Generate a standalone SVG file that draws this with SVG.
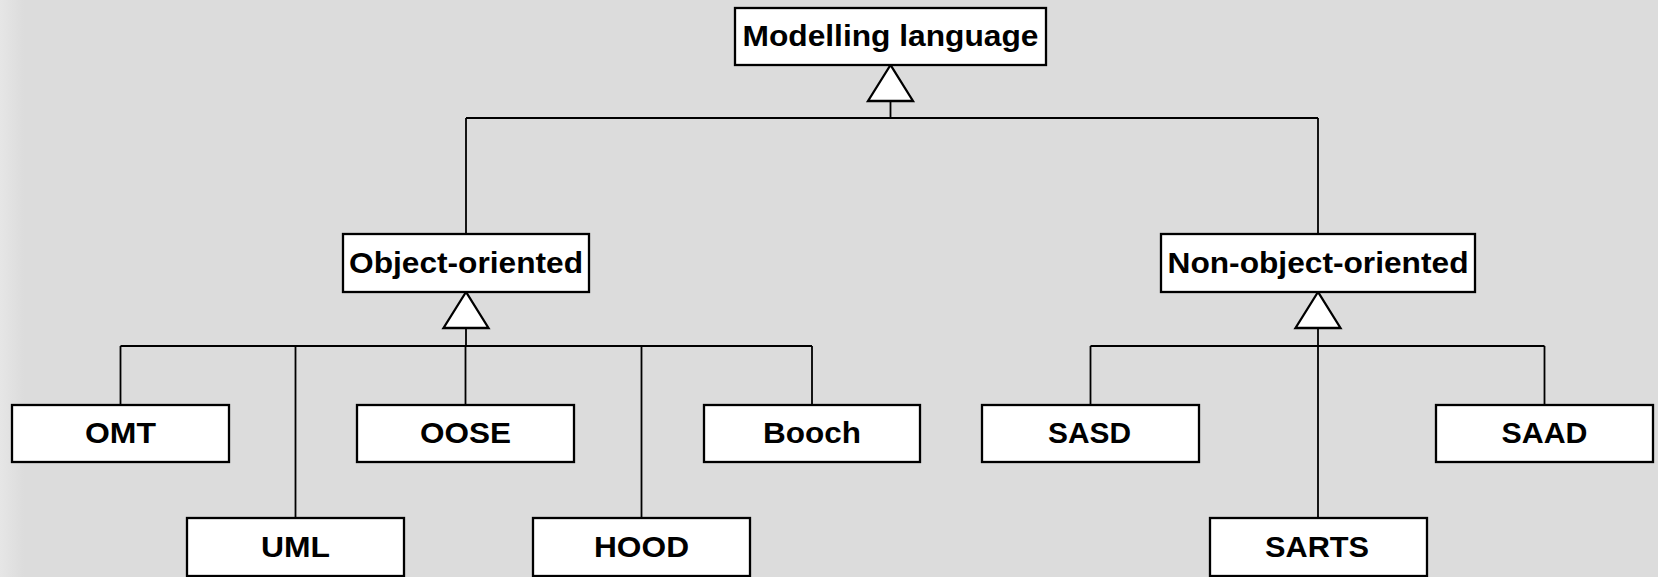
<svg xmlns="http://www.w3.org/2000/svg" width="1658" height="577" viewBox="0 0 1658 577">
  <style>
    .box { fill: #ffffff; stroke: #000000; stroke-width: 2.3; }
    .lbl { font-family: "Liberation Sans", Arial, sans-serif; font-weight: bold; font-size: 29.5px; fill: #000000; text-anchor: middle; }
    .wire { fill: none; stroke: #000000; stroke-width: 1.8; }
    .head { fill: #ffffff; stroke: #000000; stroke-width: 2.3; stroke-linejoin: miter; }
  </style>
  <defs>
    <linearGradient id="edge" x1="0" y1="0" x2="1" y2="0">
      <stop offset="0" stop-color="#e6e6e6"/>
      <stop offset="1" stop-color="#dcdcdc"/>
    </linearGradient>
  </defs>

  <!-- background -->
  <rect x="0" y="0" width="1658" height="577" fill="#dcdcdc"/>
  <rect x="0" y="0" width="24" height="577" fill="url(#edge)"/>

  <!-- generalisation connectors -->
  <g id="connectors">
    <!-- root -->
    <path class="wire" d="M890.5,101 V118 M466,118 H1318 M466,118 V234 M1318,118 V234"/>
    <polygon class="head" points="890.5,65 868,101 913,101"/>
    <!-- object-oriented branch -->
    <path class="wire" d="M466,328 V346 M120.5,346 H812 M120.5,346 V405 M295.5,346 V518 M465.5,346 V405 M641.5,346 V518 M812,346 V405"/>
    <polygon class="head" points="466,292 443.5,328 488.5,328"/>
    <!-- non-object-oriented branch -->
    <path class="wire" d="M1318,328 V346 M1090.5,346 H1544.5 M1090.5,346 V405 M1318,346 V518 M1544.5,346 V405"/>
    <polygon class="head" points="1318,292 1295.5,328 1340.5,328"/>
  </g>

  <g id="modelling-language">
    <rect class="box" x="735" y="8" width="311" height="57"/>
    <text class="lbl" x="890.5" y="46" textLength="296" lengthAdjust="spacingAndGlyphs">Modelling language</text>
  </g>
  <g id="object-oriented">
    <rect class="box" x="343" y="234" width="246" height="58"/>
    <text class="lbl" x="466" y="273" textLength="234" lengthAdjust="spacingAndGlyphs">Object-oriented</text>
  </g>
  <g id="non-object-oriented">
    <rect class="box" x="1161" y="234" width="314" height="58"/>
    <text class="lbl" x="1318" y="273" textLength="301" lengthAdjust="spacingAndGlyphs">Non-object-oriented</text>
  </g>

  <g id="omt">
    <rect class="box" x="12" y="405" width="217" height="57"/>
    <text class="lbl" x="120.5" y="443" textLength="71" lengthAdjust="spacingAndGlyphs">OMT</text>
  </g>
  <g id="uml">
    <rect class="box" x="187" y="518" width="217" height="58"/>
    <text class="lbl" x="295.5" y="556.5" textLength="69" lengthAdjust="spacingAndGlyphs">UML</text>
  </g>
  <g id="oose">
    <rect class="box" x="357" y="405" width="217" height="57"/>
    <text class="lbl" x="465.5" y="443" textLength="91" lengthAdjust="spacingAndGlyphs">OOSE</text>
  </g>
  <g id="hood">
    <rect class="box" x="533" y="518" width="217" height="58"/>
    <text class="lbl" x="641.5" y="556.5" textLength="95" lengthAdjust="spacingAndGlyphs">HOOD</text>
  </g>
  <g id="booch">
    <rect class="box" x="704" y="405" width="216" height="57"/>
    <text class="lbl" x="812" y="443" textLength="98" lengthAdjust="spacingAndGlyphs">Booch</text>
  </g>

  <g id="sasd">
    <rect class="box" x="982" y="405" width="217" height="57"/>
    <text class="lbl" x="1089.5" y="443" textLength="83" lengthAdjust="spacingAndGlyphs">SASD</text>
  </g>
  <g id="sarts">
    <rect class="box" x="1210" y="518" width="217" height="58"/>
    <text class="lbl" x="1317" y="556.5" textLength="104" lengthAdjust="spacingAndGlyphs">SARTS</text>
  </g>
  <g id="saad">
    <rect class="box" x="1436" y="405" width="217" height="57"/>
    <text class="lbl" x="1544.5" y="443" textLength="86" lengthAdjust="spacingAndGlyphs">SAAD</text>
  </g>
</svg>
